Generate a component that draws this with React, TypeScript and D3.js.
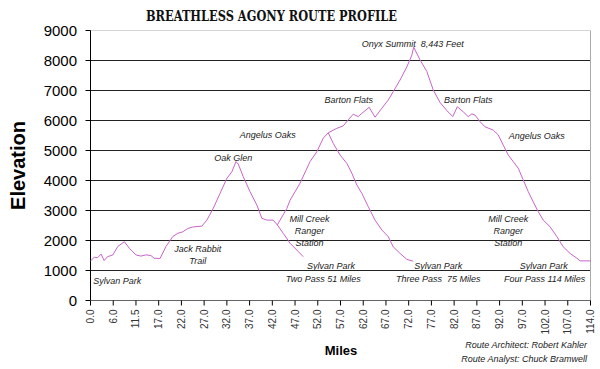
import React from "react";
import * as d3 from "d3";

// category axis labels (miles), evenly spaced like the original spreadsheet chart
const tickMiles = [0, 6, 11.5, 17, 22, 27, 32, 37, 42, 47, 52, 57, 62, 67, 72, 77, 82, 87, 92, 97, 102, 107, 114];
const elevTicks = [0, 1000, 2000, 3000, 4000, 5000, 6000, 7000, 8000, 9000];

// full loop route
const routeMiles = [
  0, 1.0, 1.9, 2.8, 3.6, 4.5, 5.9, 7.1, 8.7, 9.9,
  11.5, 12.7, 13.9, 15.1, 15.9, 17.3, 18.6, 20.1, 21.2, 22.3,
  23.4, 24.5, 26.5, 27.6, 29.0, 30.5, 32.0, 33.1, 34.0, 34.5,
  35.6, 37.1, 38.6, 39.7, 40.8, 42.2, 43.1, 45.2, 45.9, 48.1,
  50.3, 51.8, 53.2, 54.3, 56.2, 57.6, 58.7, 59.8, 60.9, 61.7,
  63.3, 64.6, 66.1, 67.5, 68.6, 70.1, 71.6, 72.7, 73.1, 74.5,
  76.0, 77.4, 78.9, 80.4, 81.7, 82.7, 84.0, 85.1, 85.9, 86.6,
  87.7, 88.8, 90.6, 91.7, 92.8, 93.9, 95.0, 96.1, 97.2, 98.3,
  99.4, 100.5, 101.6, 103.1, 104.6, 106.0, 107.7, 109.8, 110.8, 114,
];
const routeElev = [
  1320, 1440, 1430, 1550, 1330, 1460, 1520, 1800, 1960, 1740,
  1520, 1480, 1520, 1500, 1410, 1400, 1800, 2130, 2240, 2290,
  2400, 2450, 2480, 2680, 3070, 3570, 4070, 4290, 4630, 4550,
  4130, 3630, 3180, 2740, 2680, 2680, 2520, 3070, 3340, 3910,
  4630, 4960, 5410, 5590, 5740, 5820, 6020, 6210, 6130, 6240,
  6440, 6110, 6410, 6680, 6960, 7350, 7790, 8180, 8443, 8020,
  7630, 7020, 6600, 6330, 6130, 6460, 6290, 6130, 6220, 6180,
  5960, 5790, 5680, 5520, 5180, 4850, 4630, 4410, 4020, 3630,
  3290, 2960, 2680, 2460, 2130, 1790, 1570, 1410, 1320, 1320,
];

// two pass return from Mill Creek
const twoPassMiles = [43.1, 44.4, 45.9, 47.4, 48.8];
const twoPassElev = [2520, 2240, 1910, 1680, 1460];

// three pass return from Angelus Oaks
const threePassMiles = [54.3, 55.4, 56.9, 58.4, 59.5, 60.6, 61.7, 63.1, 64.6, 66.1, 67.5, 68.6, 70.1, 71.6, 73.0];
const threePassElev = [5590, 5240, 4850, 4570, 4240, 3850, 3570, 3130, 2680, 2350, 2130, 1790, 1570, 1370, 1310];

// place names, anchored at (mile, elevation)
const labelText = [
  ["Sylvan Park"], ["Jack Rabbit", "Trail"], ["Oak Glen"], ["Mill Creek", "Ranger", "Station"],
  ["Sylvan Park"], ["Two Pass 51 Miles"], ["Angelus Oaks"], ["Barton Flats"],
  ["Onyx Summit  8,443 Feet"], ["Barton Flats"], ["Angelus Oaks"], ["Mill Creek", "Ranger", "Station"],
  ["Sylvan Park"], ["Three Pass  75 Miles"], ["Sylvan Park"], ["Four Pass 114 Miles"],
];
const labelMiles = [0.7, 25.6, 33.4, 50.2, 54.9, 53.2, 41.0, 58.8, 72.9, 85.1, 100.2, 93.9, 78.5, 78.5, 101.7, 101.9];
const labelElev = [670, 1710, 4770, 2710, 1160, 710, 5530, 6680, 8570, 6680, 5490, 2710, 1160, 710, 1160, 710];

const W = 600, H = 369;
const left = 90.5, right = 590.5, top = 30.5, bottom = 300.5;
const lineColor = "#c864c8";
const font = "Arial, 'Liberation Sans', sans-serif";

const x = d3
  .scaleLinear()
  .domain(tickMiles)
  .range(tickMiles.map((_, i) => left + (i * (right - left)) / (tickMiles.length - 1)));
const y = d3.scaleLinear().domain([0, 9000]).range([bottom, top]);

const line = d3
  .line<[number, number]>()
  .x((d) => x(d[0]))
  .y((d) => y(d[1]));

const zip = (m: number[], e: number[]) => m.map((v, i) => [v, e[i]] as [number, number]);

export default function App(): JSX.Element {
  const series = [zip(routeMiles, routeElev), zip(twoPassMiles, twoPassElev), zip(threePassMiles, threePassElev)];

  return (
    <svg
      width={W}
      height={H}
      style={{ position: "absolute", left: 0, top: 0, background: "#fff" }}
      fontFamily={font}
    >
      <text
        x={146}
        y={21}
        fontFamily="'DejaVu Serif', serif"
        fontWeight="bold"
        fontSize={14}
        textLength={251}
        lengthAdjust="spacingAndGlyphs"
        fill="#111"
      >
        BREATHLESS AGONY ROUTE PROFILE
      </text>

      {/* grid */}
      {elevTicks
        .filter((t) => t > 0)
        .map((t) => (
          <line
            key={t}
            x1={left}
            x2={right}
            y1={y(t)}
            y2={y(t)}
            stroke={t === 9000 ? "#aaa" : "#222"}
            strokeDasharray={t === 9000 ? "1,1" : undefined}
          />
        ))}
      <line x1={right} x2={right} y1={top} y2={bottom} stroke="#aaa" />

      {/* y axis */}
      <line x1={left} x2={left} y1={top} y2={bottom} stroke="#000" />
      {elevTicks.map((t) => (
        <g key={t}>
          <line x1={left - 5} x2={left} y1={y(t)} y2={y(t)} stroke="#000" />
          <text x={77} y={y(t)} dy="0.36em" textAnchor="end" fontSize={15} fill="#000">
            {t}
          </text>
        </g>
      ))}
      <text
        transform={`translate(25,${(top + bottom) / 2}) rotate(-90)`}
        textAnchor="middle"
        fontSize={20}
        fontWeight="bold"
      >
        Elevation
      </text>

      {/* x axis */}
      <line x1={left} x2={right} y1={bottom} y2={bottom} stroke="#666" />
      {tickMiles.map((m) => (
        <g key={m} transform={`translate(${x(m)},${bottom})`}>
          <line y1={0} y2={5} stroke="#000" />
          <text
            transform="translate(0,9) rotate(-90)"
            dy="0.35em"
            textAnchor="end"
            fontSize={10}
            fill="#333"
          >
            {m.toFixed(1)}
          </text>
        </g>
      ))}
      <text x={341} y={355} textAnchor="middle" fontSize={13} fontWeight="bold">
        Miles
      </text>

      {/* profile */}
      {series.map((s, i) => (
        <path key={i} d={line(s) || ""} fill="none" stroke={lineColor} strokeWidth={1} />
      ))}

      {/* place names */}
      {labelText.map((lines, i) => (
        <text
          key={i}
          x={x(labelMiles[i])}
          y={y(labelElev[i])}
          textAnchor={i === 0 ? "start" : "middle"}
          fontSize={9}
          fontStyle="italic"
          fill="#222"
          style={{ whiteSpace: "pre" }}
        >
          {lines.map((t, j) => (
            <tspan key={j} x={x(labelMiles[i])} dy={j === 0 ? "0.35em" : 11.7}>
              {t}
            </tspan>
          ))}
        </text>
      ))}

      <text x={587} y={348} textAnchor="end" fontSize={9} fontStyle="italic" fill="#222">
        Route Architect: Robert Kahler
      </text>
      <text x={587} y={362} textAnchor="end" fontSize={9} fontStyle="italic" fill="#222">
        Route Analyst: Chuck Bramwell
      </text>
    </svg>
  );
}
